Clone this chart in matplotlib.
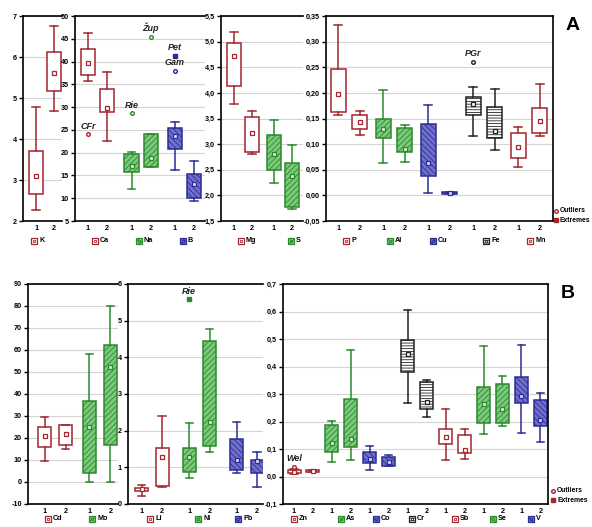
import numpy as np
import matplotlib
matplotlib.use('Agg')
import matplotlib.pyplot as plt
from matplotlib.patches import Rectangle
from matplotlib.ticker import FuncFormatter

plt.rcParams['font.family'] = ['Liberation Sans', 'DejaVu Sans']
plt.rcParams['hatch.linewidth'] = 0.6

W, H = 592, 527

# each row: [low whisker, 25%, median, 75%, high whisker]; two rows (group 1, 2) per element
k_elems = ['K']
k_box = [[2.28, 2.65, 3.10, 3.71, 4.77],
         [4.69, 5.17, 5.62, 6.12, 6.76]]

ca_elems = ['Ca', 'Na', 'B']
ca_box = [[35.7, 37.0, 39.6, 42.8, 46.3],
          [22.6, 28.9, 29.9, 34.0, 37.7],
          [12.0, 15.7, 17.1, 19.8, 20.2],
          [16.8, 16.8, 18.8, 24.0, 24.0],
          [16.2, 20.7, 23.7, 25.4, 26.7],
          [9.5, 10.0, 13.1, 15.4, 18.1]]

mg_elems = ['Mg', 'S']
mg_box = [[3.78, 4.14, 4.72, 4.97, 5.19],
          [2.81, 2.85, 3.22, 3.53, 3.65],
          [2.24, 2.50, 2.80, 3.18, 3.48],
          [1.73, 1.77, 2.38, 2.64, 2.98]]

p_elems = ['P', 'Al', 'Cu', 'Fe', 'Mn']
p_box = [[0.156, 0.163, 0.197, 0.247, 0.332],
         [0.118, 0.129, 0.143, 0.156, 0.165],
         [0.064, 0.111, 0.129, 0.150, 0.205],
         [0.066, 0.084, 0.090, 0.132, 0.138],
         [0.005, 0.038, 0.063, 0.140, 0.176],
         [0.003, 0.003, 0.004, 0.006, 0.006],
         [0.116, 0.156, 0.179, 0.191, 0.212],
         [0.088, 0.111, 0.125, 0.173, 0.207],
         [0.055, 0.073, 0.094, 0.121, 0.134],
         [0.116, 0.121, 0.145, 0.171, 0.218]]

cd_elems = ['Cd', 'Mo']
cd_box = [[9.6, 16.0, 20.8, 25.2, 29.6],
          [15.2, 16.7, 21.9, 26.0, 26.0],
          [0.0, 4.0, 24.8, 36.9, 58.2],
          [0.0, 16.7, 52.1, 62.3, 79.8]]

li_elems = ['Li', 'Ni', 'Pb']
li_box = [[0.23, 0.35, 0.41, 0.45, 0.52],
          [0.47, 0.50, 1.27, 1.53, 2.40],
          [0.71, 0.86, 1.29, 1.52, 2.20],
          [1.43, 1.59, 2.23, 4.44, 4.77],
          [0.85, 0.94, 1.19, 1.78, 2.25],
          [0.47, 0.85, 1.16, 1.21, 1.43]]

zn_elems = ['Zn', 'As', 'Co', 'Cr', 'Sb', 'Se', 'V']
zn_box = [[0.010, 0.013, 0.018, 0.023, 0.028],
          [0.018, 0.018, 0.020, 0.022, 0.023],
          [0.054, 0.089, 0.121, 0.189, 0.201],
          [0.059, 0.107, 0.137, 0.282, 0.461],
          [0.024, 0.049, 0.065, 0.089, 0.111],
          [0.040, 0.040, 0.054, 0.070, 0.080],
          [0.266, 0.379, 0.445, 0.496, 0.607],
          [0.217, 0.244, 0.270, 0.345, 0.351],
          [0.059, 0.117, 0.144, 0.171, 0.245],
          [0.062, 0.085, 0.098, 0.150, 0.171],
          [0.154, 0.193, 0.263, 0.327, 0.476],
          [0.185, 0.195, 0.244, 0.337, 0.365],
          [0.160, 0.268, 0.293, 0.362, 0.478],
          [0.127, 0.184, 0.207, 0.280, 0.302]]

# outlying samples
out_elem = ['Ca', 'Na', 'Na', 'B', 'B', 'Fe', 'Ni', 'Zn']
out_group = [1, 1, 2, 1, 1, 1, 1, 1]
out_value = [24.0, 28.7, 45.4, 41.3, 38.0, 0.261, 5.58, 0.036]
out_label = ['CFr', 'Rie', 'Žup', 'Pet', 'Gam', 'PGr', 'Rie', 'Wel']
out_kind = ['o', 'o', 'o', 'x', 'o', 'o', 'x', 'o']

# styles
RED = dict(edge='#a3262c', face='white', hatch=None, mface='white')
GREEN = dict(edge='#2b8a2b', face='#7cc87c', hatch='//////', mface='#d8f0d8')
BLUE = dict(edge='#2c2c96', face='#7070cc', hatch='\\\\\\\\\\\\', mface='#dcdcf4')
BLACK = dict(edge='#222222', face='white', hatch='------', mface='white')
style = {'K': RED, 'Ca': RED, 'Mg': RED, 'P': RED, 'Mn': RED, 'Cd': RED, 'Li': RED,
         'Zn': RED, 'Sb': RED, 'Na': GREEN, 'S': GREEN, 'Al': GREEN, 'Mo': GREEN,
         'Ni': GREEN, 'As': GREEN, 'Se': GREEN, 'B': BLUE, 'Cu': BLUE, 'Pb': BLUE,
         'Co': BLUE, 'V': BLUE, 'Fe': BLACK, 'Cr': BLACK}

# layout (pixels): left, right, top, bottom, ylim, ystep, decimals, first centre,
# pair spacing, element spacing, box width, legend x positions, legend y
panels = [
    (k_elems, k_box, 23, 62, 16, 221, (2, 7), 1, 0, 36.3, 17.4, 0, 14, [31], 241, False),
    (ca_elems, ca_box, 75, 205, 16, 221, (5, 50), 5, 0, 88, 19, 43.5, 14, [92, 136, 180], 241, False),
    (mg_elems, mg_box, 221, 303, 16, 221, (1.5, 5.5), 0.5, 1, 233.7, 18, 40, 14, [238, 288], 241, False),
    (p_elems, p_box, 326, 553, 16, 221, (-0.05, 0.35), 0.05, 2, 338.3, 21.5, 45, 15,
     [343, 387, 430, 483, 527], 241, True),
    (cd_elems, cd_box, 28, 118, 284, 504, (-10, 90), 10, 0, 44.5, 21, 44.8, 13, [45, 89], 519, False),
    (li_elems, li_box, 128, 263, 284, 504, (0, 6), 1, 0, 141.7, 20.3, 47.5, 13, [147, 195, 235], 519, False),
    (zn_elems, zn_box, 283, 548, 284, 504, (-0.1, 0.7), 0.1, 1, 294, 18.9, 37.9, 13,
     [291, 338, 373, 409, 452, 490, 528], 519, True),
]

fig = plt.figure(figsize=(W / 100, H / 100), dpi=100)
fig.patch.set_facecolor('white')

where = {}
for (elems, boxes, l, r, t, b, ylim, ystep, dec, c0, d, p, bw, legx, legy, last) in panels:
    ax = fig.add_axes([l / W, 1 - b / H, (r - l) / W, (b - t) / H])
    pos = []
    for i in range(len(elems)):
        pos += [c0 + i * p, c0 + i * p + d]
    for i, el in enumerate(elems):
        st = style[el]
        stats = []
        for g in range(2):
            lo, q1, med, q3, hi = boxes[2 * i + g]
            stats.append(dict(whislo=lo, q1=q1, med=med, q3=q3, whishi=hi, mean=med, fliers=[]))
        ax.bxp(stats, positions=pos[2 * i:2 * i + 2], widths=bw, capwidths=bw * 0.55,
               patch_artist=True, showmeans=True, manage_ticks=False,
               boxprops=dict(facecolor=st['face'], edgecolor=st['edge'], hatch=st['hatch'], linewidth=1.1),
               whiskerprops=dict(color=st['edge'], linewidth=1.1),
               capprops=dict(color=st['edge'], linewidth=1.1),
               medianprops=dict(linewidth=0),
               meanprops=dict(marker='s', markersize=3.3, markerfacecolor=st['mface'],
                              markeredgecolor=st['edge'], markeredgewidth=0.9))
        where[el] = (ax, pos[2 * i:2 * i + 2])
    ax.set_xlim(l, r)
    ax.set_ylim(*ylim)
    ticks = np.round(np.arange(ylim[0], ylim[1] + ystep / 2, ystep), 4)
    ax.set_yticks(ticks)
    ax.yaxis.set_major_formatter(FuncFormatter(
        lambda v, _, dec=dec: f'{round(v, dec) + 0.0:.{dec}f}'.replace('.', ',')))
    ax.set_xticks(pos)
    ax.set_xticklabels(['1', '2'] * len(elems))
    ax.tick_params(axis='x', length=0, pad=3, labelsize=5.2)
    ax.tick_params(axis='y', length=3, width=1, pad=1.5, labelsize=5.2, direction='out')
    for lab in ax.get_xticklabels() + ax.get_yticklabels():
        lab.set_fontweight('bold')
    ax.yaxis.grid(True, color='#d4d4d4', linewidth=0.8)
    ax.set_axisbelow(True)
    for s in ['left', 'top', 'bottom', 'right']:
        ax.spines[s].set_linewidth(1.2)
    ax.spines['right'].set_visible(last)

# outliers and extremes with sample labels
for el, g, v, lab, kind in zip(out_elem, out_group, out_value, out_label, out_kind):
    ax, pos = where[el]
    st = style[el]
    if kind == 'o':
        ax.plot(pos[g - 1], v, 'o', ms=2.6, mfc='white', mec=st['edge'], mew=1, zorder=5)
    else:
        ax.plot(pos[g - 1], v, 's', ms=2.4, mfc=st['edge'], mec=st['edge'], zorder=5)
    ax.annotate(lab, (pos[g - 1], v), xytext=(0, 2.5), textcoords='offset points',
                ha='center', va='bottom', fontsize=6.5, fontweight='bold', fontstyle='italic',
                color='#222222')

# overlay in pixel coordinates for legends and panel letters
ov = fig.add_axes([0, 0, 1, 1], zorder=10)
ov.set_xlim(0, W)
ov.set_ylim(H, 0)
ov.axis('off')
ov.patch.set_alpha(0)

for (elems, boxes, l, r, t, b, ylim, ystep, dec, c0, d, p, bw, legx, legy, last) in panels:
    for el, lx in zip(elems, legx):
        st = style[el]
        ov.add_patch(Rectangle((lx, legy - 3), 6, 6, facecolor=st['face'], edgecolor=st['edge'],
                               hatch=st['hatch'], linewidth=0.9))
        ov.plot(lx + 3, legy, 's', ms=1.6, mfc='none', mec=st['edge'], mew=0.6)
        ov.text(lx + 8, legy, el, ha='left', va='center', fontsize=5.2, fontweight='bold')

for (mx, my) in [(556, 211), (553, 491)]:
    ov.plot(mx, my, 'o', ms=2.6, mfc='white', mec='#a3262c', mew=1)
    ov.text(mx + 4, my, 'Outliers', ha='left', va='center', fontsize=4.9, fontweight='bold')
    ov.plot(mx, my + 9, 's', ms=2.2, mfc='#a3262c', mec='#a3262c')
    ov.text(mx + 4, my + 9, 'Extremes', ha='left', va='center', fontsize=4.9, fontweight='bold')

ov.text(573, 26, 'A', ha='center', va='center', fontsize=14, fontweight='bold')
ov.text(568, 293, 'B', ha='center', va='center', fontsize=14, fontweight='bold')

fig.savefig('out.png', dpi=100, facecolor='white')
